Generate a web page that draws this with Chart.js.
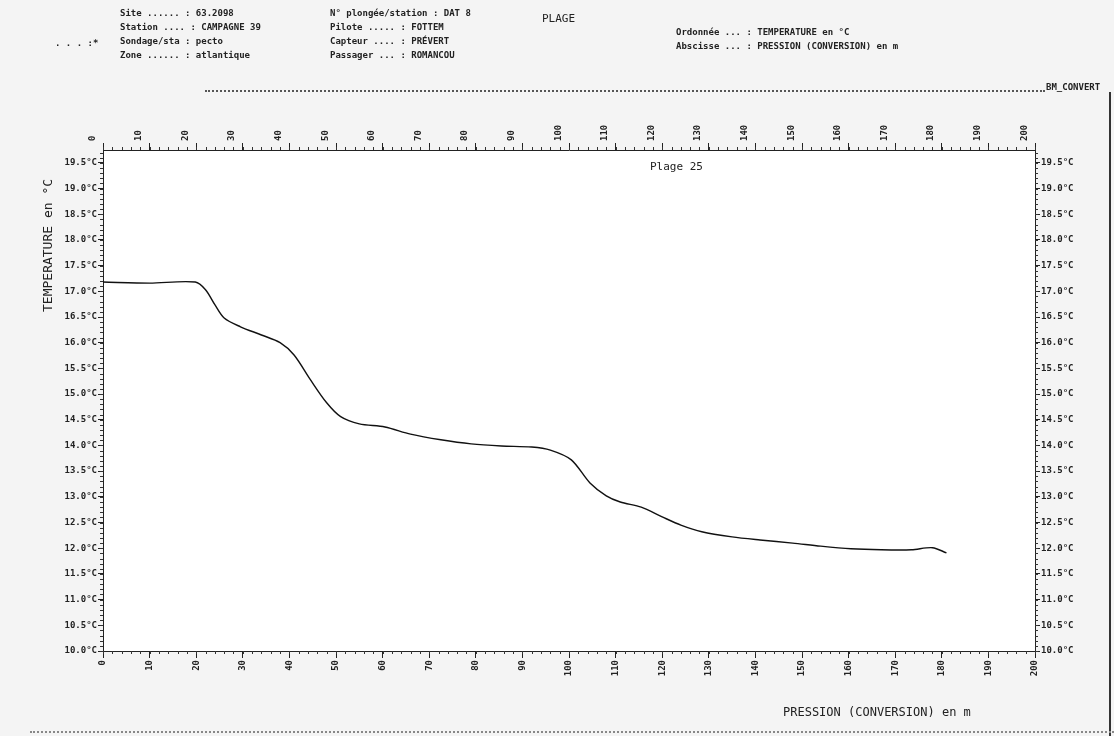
<!DOCTYPE html>
<html>
<head>
<meta charset="utf-8">
<script src="https://cdn.jsdelivr.net/npm/chart.js@4.4.1/dist/chart.umd.min.js"></script>
<style>
  body { margin: 0; background: #f4f4f4; }
  #wrap { position: relative; width: 1114px; height: 736px; overflow: hidden; }
  canvas { position: absolute; left: 0; top: 0; }
  .t { position: absolute; font-family: "DejaVu Sans Mono", monospace; font-weight: bold; font-size: 9px; color: #222; white-space: pre; }
  .big { font-size: 11px; font-weight: normal; }
</style>
</head>
<body>
<div id="wrap">
  <canvas id="tempChart" width="1114" height="736"></canvas>

  <div class="t" style="left:55px;top:38px;">. . . :*</div>
  <div class="t" style="left:120px;top:8px;">Site ...... : 63.2098</div>
  <div class="t" style="left:120px;top:22px;">Station .... : CAMPAGNE 39</div>
  <div class="t" style="left:120px;top:36px;">Sondage/sta : pecto</div>
  <div class="t" style="left:120px;top:50px;">Zone ...... : atlantique</div>

  <div class="t" style="left:330px;top:8px;">N° plongée/station : DAT 8</div>
  <div class="t" style="left:330px;top:22px;">Pilote ..... : FOTTEM</div>
  <div class="t" style="left:330px;top:36px;">Capteur .... : PRÉVERT</div>
  <div class="t" style="left:330px;top:50px;">Passager ... : ROMANCOU</div>

  <div class="t big" style="left:542px;top:12px;">PLAGE</div>

  <div class="t" style="left:676px;top:27px;">Ordonnée ... : TEMPERATURE en °C</div>
  <div class="t" style="left:676px;top:41px;">Abscisse ... : PRESSION (CONVERSION) en m</div>

  <div style="position:absolute;left:205px;top:90px;width:840px;border-top:2px dotted #555;"></div>
  <div class="t" style="left:1046px;top:82px;">BM_CONVERT</div>
  <div style="position:absolute;left:1109px;top:92px;height:644px;border-left:2px solid #333;"></div>
  <div style="position:absolute;left:30px;top:731px;width:1084px;border-top:2px dotted #888;"></div>

  <div class="t big" style="left:650px;top:160px;">Plage 25</div>

  <div class="t big" style="left:40px;top:312px;transform:rotate(-90deg);transform-origin:left top;font-size:13px;">TEMPERATURE en °C</div>

  <div class="t big" style="left:783px;top:705px;font-size:12px;">PRESSION (CONVERSION) en m</div>
</div>

<script>
// profil de température en fonction de la pression (m)
const depthM = [0, 10, 19.8, 22, 24, 26, 29.5, 34, 38, 41, 44.5, 48, 51, 55, 60.5, 66, 72.5, 79, 85.5, 92, 96, 100.5, 104.5, 108, 111, 115.5, 120, 124, 128.5, 135, 141, 148, 154, 160.5, 167, 173.5, 178, 181];
const tempC = [17.18, 17.16, 17.18, 17.03, 16.74, 16.48, 16.31, 16.15, 16.0, 15.76, 15.28, 14.83, 14.56, 14.42, 14.36, 14.22, 14.11, 14.03, 13.99, 13.97, 13.91, 13.72, 13.27, 13.02, 12.90, 12.80, 12.61, 12.45, 12.32, 12.22, 12.16, 12.10, 12.04, 11.99, 11.97, 11.97, 12.01, 11.91];

const xTicks = [0, 10, 20, 30, 40, 50, 60, 70, 80, 90, 100, 110, 120, 130, 140, 150, 160, 170, 180, 190, 200];
const yTicks = [10.0, 10.5, 11.0, 11.5, 12.0, 12.5, 13.0, 13.5, 14.0, 14.5, 15.0, 15.5, 16.0, 16.5, 17.0, 17.5, 18.0, 18.5, 19.0, 19.5];

const tickFont = { family: 'DejaVu Sans Mono', size: 9, weight: 'bold' };

function setTicks(list) {
    return scale => { scale.ticks = list.map(v => ({ value: v })); };
}
function fixSize(prop, size) {
    return scale => { scale[prop] = size; };
}

// fond blanc de la zone de tracé + petites graduations
const frame = {
    id: 'frame',
    beforeDraw(chart) {
        const { ctx, chartArea: a } = chart;
        ctx.save();
        ctx.fillStyle = '#ffffff';
        ctx.fillRect(a.left, a.top, a.right - a.left, a.bottom - a.top);
        ctx.restore();
    },
    afterDraw(chart) {
        const { ctx, chartArea: a, scales } = chart;
        ctx.save();
        ctx.strokeStyle = '#333';
        ctx.lineWidth = 1;
        ctx.beginPath();
        for (let v = 10; v <= 19.75; v += 0.1) {
            const y = Math.round(scales.y.getPixelForValue(v)) + 0.5;
            ctx.moveTo(a.left - 3, y); ctx.lineTo(a.left, y);
            ctx.moveTo(a.right, y); ctx.lineTo(a.right + 3, y);
        }
        for (let v = 0; v <= 200; v += 2) {
            const x = Math.round(scales.x.getPixelForValue(v)) + 0.5;
            ctx.moveTo(x, a.bottom); ctx.lineTo(x, a.bottom + 3);
            ctx.moveTo(x, a.top - 3); ctx.lineTo(x, a.top);
        }
        ctx.stroke();
        ctx.restore();
    }
};

const xAxis = (position, height) => ({
    type: 'linear',
    position: position,
    min: 0,
    max: 200,
    afterBuildTicks: setTicks(xTicks),
    afterFit: fixSize('height', height),
    border: { color: '#222', width: 1, dash: [3, 2] },
    grid: { drawOnChartArea: false, color: '#222', tickLength: 7 },
    ticks: { font: tickFont, color: '#222', minRotation: 90, maxRotation: 90, padding: 2 }
});

const yAxis = (position, width) => ({
    type: 'linear',
    position: position,
    min: 10,
    max: 19.75,
    afterBuildTicks: setTicks(yTicks),
    afterFit: fixSize('width', width),
    border: { color: '#222', width: 1, dash: [2, 2] },
    grid: { drawOnChartArea: false, color: '#222', tickLength: 5 },
    ticks: { font: tickFont, color: '#222', padding: 1, callback: v => v.toFixed(1) + '°C' }
});

new Chart(document.getElementById('tempChart').getContext('2d'), {
    type: 'line',
    data: {
        datasets: [{
            label: 'Température',
            data: depthM.map((d, i) => ({ x: d, y: tempC[i] })),
            borderColor: '#111',
            borderWidth: 1.4,
            pointRadius: 0,
            tension: 0.3,
            fill: false
        }]
    },
    options: {
        responsive: false,
        animation: false,
        layout: { padding: 0 },
        plugins: { legend: { display: false }, tooltip: { enabled: false } },
        scales: {
            x: xAxis('bottom', 85),
            x2: xAxis('top', 150),
            y: yAxis('left', 103),
            y2: yAxis('right', 79)
        }
    },
    plugins: [frame]
});
</script>
</body>
</html>
